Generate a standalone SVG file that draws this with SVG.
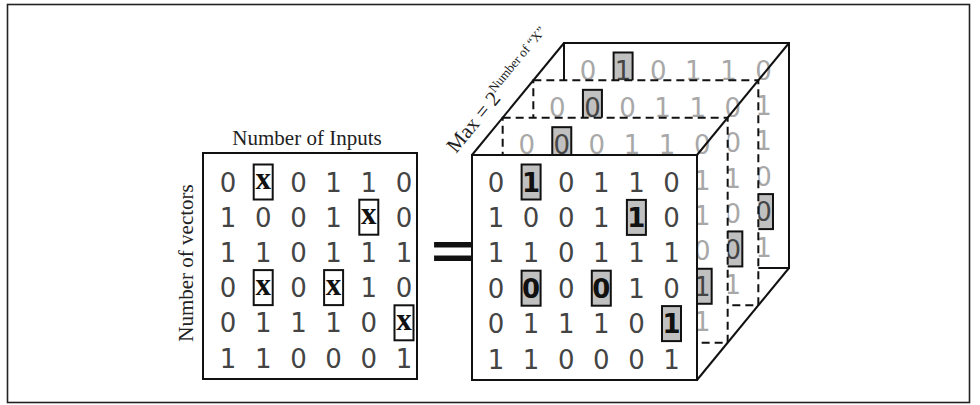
<svg xmlns="http://www.w3.org/2000/svg" width="980" height="405" viewBox="0 0 980 405">
<style>
.d{font-family:"DejaVu Sans",sans-serif;font-size:26px;fill:#444;text-anchor:middle}
.g{fill:#a8a8a8}
.b{font-weight:bold;fill:#111}
.x{font-family:"Liberation Serif",serif;font-weight:bold;font-size:31px;fill:#111}
.hb{fill:#c0c0c0;stroke:#111;stroke-width:2}
.wb{fill:#fff;stroke:#111;stroke-width:2}
.sl{fill:#fff;stroke:#111;stroke-width:2}
.ds{fill:#fff;stroke:#111;stroke-width:2;stroke-dasharray:8 5}
.ln{fill:none;stroke:#111;stroke-width:2}
.lbl{font-family:"Liberation Serif",serif;font-size:21px;fill:#222}
</style>
<rect x="7.5" y="4.5" width="962" height="398" fill="#fff" stroke="#222" stroke-width="1.6"/>

<g id="labels">
<text class="lbl" x="307" y="145" text-anchor="middle">Number of Inputs</text>
<text class="lbl" transform="translate(193,263) rotate(-90)" text-anchor="middle">Number of vectors</text>
<text class="lbl" transform="translate(456,154) rotate(-50.4)" font-size="23">Max = 2<tspan font-size="13" dy="-9">Number of “X”</tspan></text>
<text x="431" y="269" font-family="Liberation Sans,sans-serif" font-weight="bold" font-size="50" fill="#111" textLength="43" lengthAdjust="spacingAndGlyphs">=</text>
</g>

<g id="input-matrix">
<rect class="sl" x="203" y="153" width="214" height="226"/>
<rect class="wb" x="253.7" y="164.5" width="19" height="35"/>
<rect class="wb" x="359.3" y="199.7" width="19" height="35"/>
<rect class="wb" x="253.7" y="270.1" width="19" height="35"/>
<rect class="wb" x="324.1" y="270.1" width="19" height="35"/>
<rect class="wb" x="394.5" y="305.3" width="19" height="35"/>
<g class="d" transform="translate(0,1)">
<text x="228" y="190.6">0</text><text class="x" x="263.2" y="188">x</text><text x="298.4" y="190.6">0</text><text x="333.6" y="190.6">1</text><text x="368.8" y="190.6">1</text><text x="404" y="190.6">0</text>
<text x="228" y="225.8">1</text><text x="263.2" y="225.8">0</text><text x="298.4" y="225.8">0</text><text x="333.6" y="225.8">1</text><text class="x" x="368.8" y="223.2">x</text><text x="404" y="225.8">0</text>
<text x="228" y="261">1</text><text x="263.2" y="261">1</text><text x="298.4" y="261">0</text><text x="333.6" y="261">1</text><text x="368.8" y="261">1</text><text x="404" y="261">1</text>
<text x="228" y="296.2">0</text><text class="x" x="263.2" y="293.6">x</text><text x="298.4" y="296.2">0</text><text class="x" x="333.6" y="293.6">x</text><text x="368.8" y="296.2">1</text><text x="404" y="296.2">0</text>
<text x="228" y="331.4">0</text><text x="263.2" y="331.4">1</text><text x="298.4" y="331.4">1</text><text x="333.6" y="331.4">1</text><text x="368.8" y="331.4">0</text><text class="x" x="404" y="328.8">x</text>
<text x="228" y="366.6">1</text><text x="263.2" y="366.6">1</text><text x="298.4" y="366.6">0</text><text x="333.6" y="366.6">0</text><text x="368.8" y="366.6">0</text><text x="404" y="366.6">1</text>
</g>
</g>

<g id="layer-3">
<rect class="sl" x="564" y="43" width="225" height="225"/>
<rect class="hb" x="613.6" y="52.5" width="19" height="35"/>
<rect class="hb" x="754" y="194.1" width="19" height="35"/>
<g class="d" transform="translate(0,1)">
<text class="g" x="588" y="78.6">0</text><text x="623.1" y="78.6">1</text><text class="g" x="658.2" y="78.6">0</text><text class="g" x="693.3" y="78.6">1</text><text class="g" x="728.4" y="78.6">1</text><text class="g" x="763.5" y="78.6">0</text>
<text class="g" x="763.5" y="114">1</text><text class="g" x="763.5" y="149.4">1</text><text class="g" x="763.5" y="184.8">0</text><text x="763.5" y="220.2">0</text><text class="g" x="763.5" y="255.6">1</text>
</g>
</g>

<g id="layer-2">
<rect class="ds" x="533.33" y="80.33" width="225" height="225"/>
<rect class="hb" x="582.93" y="89.83" width="19" height="35"/>
<rect class="hb" x="723.33" y="231.43" width="19" height="35"/>
<g class="d" transform="translate(0,1)">
<text class="g" x="557.33" y="115.93">0</text><text x="592.43" y="115.93">0</text><text class="g" x="627.53" y="115.93">0</text><text class="g" x="662.63" y="115.93">1</text><text class="g" x="697.73" y="115.93">1</text><text class="g" x="732.83" y="115.93">0</text>
<text class="g" x="732.83" y="151.33">0</text><text class="g" x="732.83" y="186.73">1</text><text class="g" x="732.83" y="222.13">0</text><text x="732.83" y="257.53">0</text><text class="g" x="732.83" y="292.93">1</text>
</g>
</g>

<g id="layer-1">
<rect class="ds" x="502.67" y="117.67" width="225" height="225"/>
<rect class="hb" x="552.27" y="127.17" width="19" height="35"/>
<rect class="hb" x="692.67" y="268.77" width="19" height="35"/>
<g class="d" transform="translate(0,1)">
<text class="g" x="526.67" y="153.27">0</text><text x="561.77" y="153.27">0</text><text class="g" x="596.87" y="153.27">0</text><text class="g" x="631.97" y="153.27">1</text><text class="g" x="667.07" y="153.27">1</text><text class="g" x="702.17" y="153.27">0</text>
<text class="g" x="702.17" y="188.67">1</text><text class="g" x="702.17" y="224.07">1</text><text class="g" x="702.17" y="259.47">0</text><text x="702.17" y="294.87">1</text><text class="g" x="702.17" y="330.27">1</text>
</g>
</g>

<g id="front-layer">
<rect class="sl" x="472" y="155" width="225" height="225"/>
<rect class="hb" x="521.6" y="164.5" width="19" height="35"/>
<rect class="hb" x="626.9" y="199.9" width="19" height="35"/>
<rect class="hb" x="521.6" y="270.7" width="19" height="35"/>
<rect class="hb" x="591.8" y="270.7" width="19" height="35"/>
<rect class="hb" x="662" y="306.1" width="19" height="35"/>
<g class="d" transform="translate(0,1)">
<text x="496" y="190.6">0</text><text class="b" x="531.1" y="190.6">1</text><text x="566.2" y="190.6">0</text><text x="601.3" y="190.6">1</text><text x="636.4" y="190.6">1</text><text x="671.5" y="190.6">0</text>
<text x="496" y="226">1</text><text x="531.1" y="226">0</text><text x="566.2" y="226">0</text><text x="601.3" y="226">1</text><text class="b" x="636.4" y="226">1</text><text x="671.5" y="226">0</text>
<text x="496" y="261.4">1</text><text x="531.1" y="261.4">1</text><text x="566.2" y="261.4">0</text><text x="601.3" y="261.4">1</text><text x="636.4" y="261.4">1</text><text x="671.5" y="261.4">1</text>
<text x="496" y="296.8">0</text><text class="b" x="531.1" y="296.8">0</text><text x="566.2" y="296.8">0</text><text class="b" x="601.3" y="296.8">0</text><text x="636.4" y="296.8">1</text><text x="671.5" y="296.8">0</text>
<text x="496" y="332.2">0</text><text x="531.1" y="332.2">1</text><text x="566.2" y="332.2">1</text><text x="601.3" y="332.2">1</text><text x="636.4" y="332.2">0</text><text class="b" x="671.5" y="332.2">1</text>
<text x="496" y="367.6">1</text><text x="531.1" y="367.6">1</text><text x="566.2" y="367.6">0</text><text x="601.3" y="367.6">0</text><text x="636.4" y="367.6">0</text><text x="671.5" y="367.6">1</text>
</g>
</g>

<g id="connectors">
<line class="ln" x1="472" y1="155" x2="564" y2="43"/>
<line class="ln" x1="697" y1="155" x2="789" y2="43"/>
<line class="ln" x1="697" y1="380" x2="789" y2="268"/>
</g>
</svg>
